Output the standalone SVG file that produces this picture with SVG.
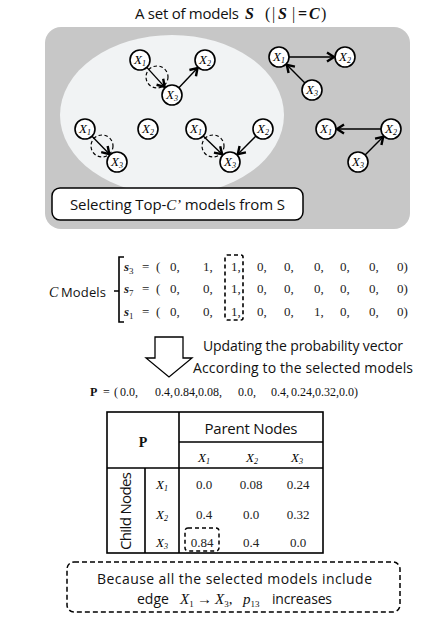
<svg xmlns="http://www.w3.org/2000/svg" width="430" height="628" viewBox="0 0 430 628">
<defs>
<marker id="ah" markerUnits="userSpaceOnUse" markerWidth="12" markerHeight="12" refX="8" refY="5" orient="auto" overflow="visible">
<path d="M1,0.5 L8,5 L1,9.5" fill="none" stroke="#000" stroke-width="2.4" stroke-linejoin="miter"/>
</marker>
</defs>
<style>
.sans{font-family:"Open Sans","Noto Sans","Liberation Sans",sans-serif;fill:#111}
.serif{font-family:"Liberation Serif","DejaVu Serif",serif;fill:#111}
.nd circle{fill:#fff;stroke:#000;stroke-width:1.6}
.nd text{font-family:"Liberation Serif",serif;font-style:italic;font-size:13px;fill:#000}
.edge{stroke:#000;stroke-width:1.4;fill:none;marker-end:url(#ah)}
.dc{fill:none;stroke:#000;stroke-width:1.2;stroke-dasharray:3.5 2.5}
.ln{stroke:#000;stroke-width:1.6;fill:none}
.val{font-family:"Liberation Serif",serif;font-size:13px;fill:#222}
</style>

<text x="135" y="19" class="sans" font-size="15" textLength="104">A set of models</text>
<text y="19" class="serif" font-size="16"><tspan x="245" font-weight="bold" font-style="italic">S</tspan><tspan x="265">(</tspan><tspan x="272">|</tspan><tspan x="278" font-weight="bold" font-style="italic">S</tspan><tspan x="292">|</tspan><tspan x="298" font-weight="bold">=</tspan><tspan x="309" font-weight="bold" font-style="italic">C</tspan><tspan x="321">)</tspan></text>

<g id="model-set">
<rect x="45" y="27" width="365" height="202" rx="16" fill="#c7c7c7"/>
<ellipse cx="172" cy="115" rx="112" ry="80" fill="#f1f3f4"/>
</g>

<g id="connectors">
<line class="edge" x1="146.8" y1="67.4" x2="164.6" y2="86.9"/>
<line class="edge" x1="178.9" y1="87.7" x2="197.5" y2="68.0"/>
<line class="edge" x1="289" y1="57" x2="334" y2="57"/>
<line class="edge" x1="304.9" y1="82.9" x2="286.8" y2="64.8"/>
<line class="edge" x1="92" y1="136.2" x2="109.3" y2="154.1"/>
<line class="edge" x1="203.2" y1="136" x2="222.1" y2="154.3"/>
<line class="edge" x1="255.9" y1="136.1" x2="237.8" y2="154.2"/>
<line class="edge" x1="381" y1="129" x2="337" y2="129"/>
<line class="edge" x1="365.1" y1="154.9" x2="383.2" y2="136.8"/>
<circle class="dc" cx="157" cy="77" r="11"/>
<circle class="dc" cx="102" cy="146" r="11"/>
<circle class="dc" cx="213" cy="146" r="11"/>
</g>

<g id="m1-x1" class="nd"><circle cx="140" cy="60" r="10"/><text x="134" y="64">X<tspan font-size="8" dy="2">1</tspan></text></g>
<g id="m1-x2" class="nd"><circle cx="205" cy="60" r="10"/><text x="199" y="64">X<tspan font-size="8" dy="2">2</tspan></text></g>
<g id="m1-x3" class="nd"><circle cx="172" cy="95" r="10"/><text x="166" y="99">X<tspan font-size="8" dy="2">3</tspan></text></g>

<g id="m2-x1" class="nd"><circle cx="279" cy="57" r="10"/><text x="273" y="61">X<tspan font-size="8" dy="2">1</tspan></text></g>
<g id="m2-x2" class="nd"><circle cx="345" cy="57" r="10"/><text x="339" y="61">X<tspan font-size="8" dy="2">2</tspan></text></g>
<g id="m2-x3" class="nd"><circle cx="312" cy="90" r="10"/><text x="306" y="94">X<tspan font-size="8" dy="2">3</tspan></text></g>

<g id="m3-x1" class="nd"><circle cx="85" cy="129" r="10"/><text x="79" y="133">X<tspan font-size="8" dy="2">1</tspan></text></g>
<g id="m3-x2" class="nd"><circle cx="148" cy="129" r="10"/><text x="142" y="133">X<tspan font-size="8" dy="2">2</tspan></text></g>
<g id="m3-x3" class="nd"><circle cx="117" cy="162" r="10"/><text x="111" y="166">X<tspan font-size="8" dy="2">3</tspan></text></g>

<g id="m4-x1" class="nd"><circle cx="196" cy="129" r="10"/><text x="190" y="133">X<tspan font-size="8" dy="2">1</tspan></text></g>
<g id="m4-x2" class="nd"><circle cx="263" cy="129" r="10"/><text x="257" y="133">X<tspan font-size="8" dy="2">2</tspan></text></g>
<g id="m4-x3" class="nd"><circle cx="230" cy="162" r="10"/><text x="224" y="166">X<tspan font-size="8" dy="2">3</tspan></text></g>

<g id="m5-x1" class="nd"><circle cx="326" cy="129" r="10"/><text x="320" y="133">X<tspan font-size="8" dy="2">1</tspan></text></g>
<g id="m5-x2" class="nd"><circle cx="391" cy="129" r="10"/><text x="385" y="133">X<tspan font-size="8" dy="2">2</tspan></text></g>
<g id="m5-x3" class="nd"><circle cx="358" cy="162" r="10"/><text x="352" y="166">X<tspan font-size="8" dy="2">3</tspan></text></g>

<g id="select-label">
<rect x="52" y="188" width="251" height="32" rx="8" fill="#fff" stroke="#000" stroke-width="1.5"/>
<text x="70" y="210" class="sans" font-size="15" textLength="215">Selecting Top-<tspan font-family="Liberation Serif,serif" font-style="italic">C’</tspan> models from S</text>
</g>

<g id="c-models">
<text x="49" y="297" class="serif" font-size="14" font-style="italic">C</text>
<text x="61" y="297" class="sans" font-size="13" textLength="45">Models</text>
<path class="ln" d="M124,257 H119 V322 H124 M119,291 H114" stroke-width="1.4"/>
<g class="val">
<text x="124" y="271"><tspan font-style="italic" font-weight="bold">s</tspan><tspan font-size="9" dy="3">3</tspan></text>
<text x="124" y="293"><tspan font-style="italic" font-weight="bold">s</tspan><tspan font-size="9" dy="3">7</tspan></text>
<text x="124" y="316"><tspan font-style="italic" font-weight="bold">s</tspan><tspan font-size="9" dy="3">1</tspan></text>
<text x="142" y="271">=</text><text x="142" y="293">=</text><text x="142" y="316">=</text>
<text x="156" y="271">(</text><text x="156" y="293">(</text><text x="156" y="316">(</text>
<text y="271"><tspan x="170">0,</tspan><tspan x="203">1,</tspan><tspan x="231">1,</tspan><tspan x="257">0,</tspan><tspan x="284">0,</tspan><tspan x="314">0,</tspan><tspan x="340">0,</tspan><tspan x="369">0,</tspan><tspan x="397">0)</tspan></text>
<text y="293"><tspan x="170">0,</tspan><tspan x="203">0,</tspan><tspan x="231">1,</tspan><tspan x="257">0,</tspan><tspan x="284">0,</tspan><tspan x="314">0,</tspan><tspan x="340">0,</tspan><tspan x="369">0,</tspan><tspan x="397">0)</tspan></text>
<text y="316"><tspan x="170">0,</tspan><tspan x="203">0,</tspan><tspan x="231">1,</tspan><tspan x="257">0,</tspan><tspan x="284">0,</tspan><tspan x="314">1,</tspan><tspan x="340">0,</tspan><tspan x="369">0,</tspan><tspan x="397">0)</tspan></text>
</g>
<rect x="225" y="255" width="18" height="65" rx="2" fill="none" stroke="#000" stroke-width="1.6" stroke-dasharray="4 3"/>
</g>

<g id="update-arrow">
<polygon points="155,337 183,337 183,358 192,358 169,377 146,358 155,358" fill="#fff" stroke="#000" stroke-width="1.3"/>
<text x="203" y="351" class="sans" font-size="14" textLength="200">Updating the probability vector</text>
<text x="193" y="373" class="sans" font-size="14" textLength="220">According to the selected models</text>
</g>

<g id="p-vector" class="serif" font-size="12">
<text y="396"><tspan x="90" font-weight="bold">P</tspan><tspan x="103">=</tspan><tspan x="114">(</tspan><tspan x="120">0.0,</tspan><tspan x="155">0.4,</tspan><tspan x="174">0.84,</tspan><tspan x="198">0.08,</tspan><tspan x="238">0.0,</tspan><tspan x="271">0.4,</tspan><tspan x="291">0.24,</tspan><tspan x="315">0.32,</tspan><tspan x="339">0.0)</tspan></text>
</g>

<g id="table">
<rect x="107" y="412" width="216" height="141" fill="#fff" class="ln"/>
<path class="ln" d="M179,412 V553 M179,442 H323 M107,468 H323 M145,468 V553"/>
<text x="143" y="447" class="serif" font-size="14" font-weight="bold" text-anchor="middle">P</text>
<text x="251" y="434" class="sans" font-size="15" text-anchor="middle" textLength="93">Parent Nodes</text>
<g class="nd">
<text x="198" y="462">X<tspan font-size="8" dy="2">1</tspan></text>
<text x="246" y="462">X<tspan font-size="8" dy="2">2</tspan></text>
<text x="291" y="462">X<tspan font-size="8" dy="2">3</tspan></text>
<text x="156" y="489">X<tspan font-size="8" dy="2">1</tspan></text>
<text x="156" y="519">X<tspan font-size="8" dy="2">2</tspan></text>
<text x="156" y="547">X<tspan font-size="8" dy="2">3</tspan></text>
</g>
<text transform="translate(131,511) rotate(-90)" class="sans" font-size="15" text-anchor="middle" textLength="78">Child Nodes</text>
<g class="val" text-anchor="middle">
<text x="204" y="489">0.0</text><text x="251" y="489">0.08</text><text x="298" y="489">0.24</text>
<text x="204" y="519">0.4</text><text x="251" y="519">0.0</text><text x="298" y="519">0.32</text>
<text x="202" y="547">0.84</text><text x="251" y="547">0.4</text><text x="298" y="547">0.0</text>
</g>
<rect x="185" y="528" width="34" height="23" rx="3" fill="none" stroke="#000" stroke-width="1.5" stroke-dasharray="4 3"/>
</g>

<g id="note">
<rect x="67" y="562" width="333" height="50" rx="7" fill="#fff" stroke="#000" stroke-width="1.5" stroke-dasharray="5 3"/>
<text x="97" y="584" class="sans" font-size="14" textLength="275">Because all the selected models include</text>
<text x="137" y="604" class="sans" font-size="14">edge</text>
<text y="604" class="serif" font-size="15" font-style="italic"><tspan x="180">X</tspan><tspan font-size="9" dy="3" font-style="normal">1</tspan><tspan dy="-3" font-style="normal" x="197">→</tspan><tspan x="215">X</tspan><tspan font-size="9" dy="3" font-style="normal">3</tspan><tspan dy="-3" font-style="normal">,</tspan><tspan x="243">p</tspan><tspan font-size="9" dy="3" font-style="normal">13</tspan></text>
<text x="272" y="604" class="sans" font-size="14" textLength="60">increases</text>
</g>
</svg>
